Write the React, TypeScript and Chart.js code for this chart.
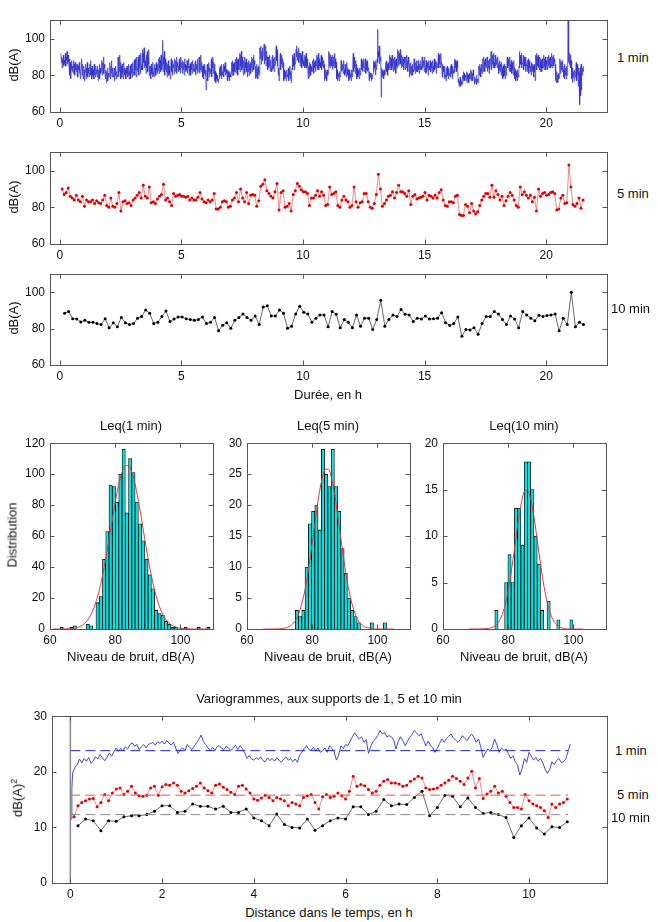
import React, { useEffect, useRef } from 'react';
import { Chart, registerables } from 'chart.js';
Chart.register(...registerables);

const FONT = "'Liberation Sans', Arial, Helvetica, sans-serif";

// ---------- Time series (dB(A)) ----------
const T1_START = 0.05; // h
const T1_STEP = 1 / 60; // h (1 min)
const T1 = [
  92,87,90,84,89,86,91,85,88,86, 87,92,85,90,88,93,86,89,91,87, 84,89,80,87,78,86,83,88,82,85,
  81,88,84,86,80,87,83,85,82,86, 80,86,79,85,83,87,81,84,78,82, 84,89,80,86,82,78,85,83,77,81,
  82,86,78,84,80,87,79,84,81,83, 79,86,82,88,80,84,78,85,82,80, 83,78,86,80,84,79,85,81,83,80,
  79,85,77,83,80,86,78,84,81,82, 82,88,80,87,83,90,81,86,84,79, 78,83,76,82,79,84,77,81,80,79,
  80,87,78,85,81,88,79,84,82,80, 79,84,77,83,80,85,78,82,81,79, 84,90,79,88,82,91,80,87,78,85,
  79,86,81,85,78,87,82,84,80,83, 78,84,81,85,79,83,80,86,78,82, 80,85,78,86,81,84,79,87,82,80,
  82,88,80,89,83,87,79,90,84,82, 83,90,80,91,84,88,81,92,85,83, 86,94,83,92,87,95,84,91,88,85,
  81,91,84,93,82,90,86,94,80,85, 80,85,78,86,81,84,79,87,82,80, 79,86,82,84,80,87,83,81,86,82,
  83,89,81,90,84,88,82,91,85,83, 85,99,82,90,86,93,80,89,83,87, 82,87,79,86,81,88,80,85,83,81,
  78,85,89,82,87,80,88,84,86,81, 83,89,82,88,84,90,81,87,85,84, 85,82,89,83,88,81,90,84,87,85,
  81,88,83,87,80,89,84,86,82,85, 83,88,81,86,84,89,80,85,82,86, 80,87,83,85,81,88,84,82,86,83,
  82,87,80,88,83,86,81,89,84,82, 84,90,81,88,83,91,82,87,85,84, 79,85,78,86,81,84,80,83,72,79,
  80,86,77,85,82,87,79,84,81,83, 82,89,79,88,84,90,81,87,83,86, 77,82,76,81,78,80,77,79,76,78,
  78,84,79,85,80,83,78,86,80,82, 81,86,79,85,82,87,80,84,83,81, 78,83,77,82,79,81,77,82,80,79,
  81,87,80,88,82,86,80,87,83,82, 82,89,81,90,83,88,80,89,84,83, 84,92,82,91,85,93,83,90,86,84,
  80,88,83,90,81,87,84,89,82,85, 79,87,82,88,80,86,83,87,81,84, 84,90,82,89,85,91,83,88,86,84,
  78,85,79,86,80,84,78,85,81,80, 87,95,89,96,86,93,90,95,88,91, 92,97,86,94,88,96,85,93,89,90,
  83,90,84,89,85,91,82,88,86,84, 82,90,83,91,84,89,82,90,85,86, 92,96,88,94,85,90,80,84,77,81,
  84,92,83,90,86,91,84,89,87,85, 77,83,78,82,79,81,77,83,80,79, 79,84,77,83,80,85,78,82,76,80,
  84,91,83,90,85,92,83,89,86,87, 94,90,96,88,93,89,95,87,92,90, 85,92,87,91,84,93,86,90,88,85,
  86,91,84,90,85,92,84,89,87,85, 78,85,79,87,81,86,80,85,82,84, 82,88,83,89,81,87,84,88,82,85,
  85,91,83,90,84,92,83,89,86,85, 87,84,91,83,90,85,89,84,88,86, 77,84,78,83,79,82,77,83,80,81,
  87,93,85,92,84,91,86,90,85,88, 83,91,85,90,84,92,86,89,84,87, 78,83,77,82,79,81,77,82,80,79,
  81,88,82,87,83,86,81,88,84,83, 80,86,81,85,79,87,82,84,80,83, 77,83,78,82,79,81,77,83,80,79,
  83,92,82,90,84,89,81,88,85,86, 78,84,79,83,80,82,78,84,81,80, 81,89,83,88,82,87,84,89,82,84,
  84,89,81,87,83,88,82,86,84,83, 77,82,78,81,79,80,77,81,78,80, 81,88,82,87,84,86,80,88,83,85,
  89,105,87,93,90,96,86,92,88,90, 68,84,79,83,80,82,78,83,81,80, 81,87,83,88,82,86,80,87,84,83,
  84,91,83,90,85,89,83,91,86,85, 82,89,84,90,83,88,81,89,85,84, 87,94,85,93,86,92,88,94,86,88,
  84,91,85,90,86,89,83,90,87,85, 83,90,84,91,85,88,82,90,86,85, 79,86,81,87,80,85,82,86,80,83,
  82,89,83,88,81,87,84,88,82,85, 82,88,83,87,81,86,84,88,83,85, 83,90,84,89,85,88,82,90,86,84,
  81,88,82,87,84,86,80,88,83,85, 83,88,82,87,84,86,81,88,84,85, 82,89,83,87,84,88,81,87,85,84,
  85,92,84,91,86,90,84,92,87,86, 81,86,79,85,82,84,78,85,80,79, 77,84,79,85,80,83,78,84,81,80,
  80,85,79,86,81,84,78,85,82,81, 83,89,82,88,84,87,82,88,85,84, 76,78,74,77,75,79,74,77,76,75,
  75,80,77,82,78,81,77,80,79,80, 77,82,76,81,78,80,76,81,79,78, 78,83,77,82,79,81,77,83,80,79,
  75,79,76,78,77,80,75,78,77,76, 79,85,80,86,81,84,79,86,82,81, 83,89,82,90,84,88,82,89,85,84,
  85,90,82,89,84,88,81,89,83,85, 85,93,83,92,86,91,84,92,85,87, 84,91,85,90,86,89,84,90,87,86,
  81,87,83,88,82,86,80,87,84,83, 78,85,79,86,80,84,78,85,81,80, 83,90,84,89,85,88,82,90,86,85,
  82,88,81,87,83,86,80,88,84,83, 78,83,77,82,79,81,77,83,80,79, 85,93,84,91,86,90,84,92,87,86,
  84,91,83,90,85,89,82,90,86,85, 82,88,83,89,81,87,84,88,82,85, 80,87,82,86,83,85,79,86,84,82,
  77,91,84,92,83,90,85,91,84,87, 83,90,82,89,84,88,82,89,85,84, 84,91,83,89,85,90,83,88,86,85,
  83,90,85,91,84,89,86,90,84,86, 85,92,84,90,86,91,85,89,87,86, 77,81,76,82,77,80,76,81,78,79,
  82,89,81,88,83,87,82,88,84,83, 79,85,78,86,80,84,78,85,81,80, 89,110,87,93,86,92,85,91,84,88,
  78,84,76,83,79,82,77,83,80,79, 79,87,77,86,80,85,74,84,78,82, 64,84,69,86,72,85,80,84,82,85,
];

const T5_START = 0.1;
const T5_STEP = 1 / 12;
const T5 = [
  90,87, 88,90.5, 86,85, 84,86.5, 84,83, 86,80.5, 84,83, 83,84, 82,83.5, 82.5,82,
  84,86.5, 81,80, 85,80.5, 80,82, 88,78, 83,83.5, 82,82.5, 81,84, 85,86.5, 88,85,
  92,86, 85,91, 82.5,83, 82,84.5, 86,87, 92.5,84, 85,83, 81,87.5, 86,86.5, 87,86,
  86,85.5, 86,84, 85,84, 84,85.5, 88,84.5, 83,82.5, 84,83, 84,87.5, 79,79, 80,83,
  83.5,83, 80,80.5, 84,85, 88,83, 90,85, 83,88, 82,86.5, 87,86.5, 80.5,83.5, 91.5,92.5,
  95,89, 87.5,86, 85,88.5, 93,78.5, 88,89, 80,80.5, 82,78, 87,89, 93,91.5, 89.5,88.5,
  88.5,87.5, 81,85, 85,86.5, 89,86, 88.5,86.5, 81,81.5, 91,87, 87.5,88.5, 81,80, 84,86,
  84,83, 80,81, 91,83, 80,82.5, 83,87.5, 87.5,83, 80,79.5, 82,87, 98,90, 80.5,82,
  84,86, 86.5,88.5, 85,88, 92,88.5, 88.5,87.5, 86,89, 81.5,86, 87,84.5, 85,85.5, 86,88,
  84,86.5, 86,85, 86.5,85, 88,89.5, 84,81, 80.5,83, 83,82.5, 86,86.5, 76,75.5, 75.5,81.5,
  80.5,77, 82,78, 76.5,77.5, 81,84, 86,87.5, 87.5,85.5, 92,85.5, 89,87, 84,86, 81,83.5,
  86,88, 86.5,84, 81,80, 91,87, 88.5,86.5, 85,86.5, 83,85.5, 78,90, 86,87.5, 88,86.5,
  87,88, 88.5,87.5, 78.5,79, 85,86.5, 82,82.5, 103,91, 81.5,80.5, 82,85, 79.5,84,
];

const T10_START = 0.2;
const T10_STEP = 1 / 6;
const T10 = [
  88.5, 89.4, 85.5, 85.3, 83.7, 84.6, 83.5, 83.5, 82.8, 82.3,
  85.5, 80.5, 83.2, 81, 86.2, 83.2, 82.3, 82.8, 85.8, 86.7,
  90.3, 88.5, 82.8, 83.5, 86.7, 89.7, 84, 85.3, 86.4, 86.4,
  85.5, 85, 84.6, 85, 86.4, 82.8, 83.5, 86.2, 78.8, 81.9,
  83.2, 80.2, 84.6, 86.2, 88.1, 86.2, 84.6, 87, 82.3, 92,
  92.6, 87, 87, 90.3, 88.5, 80.2, 81.4, 88.1, 92.4, 89,
  88.1, 83.5, 85.8, 87.6, 87.6, 81,
  89.4, 88, 80.5, 85, 83.5, 80.5, 87.6, 81.4, 85.8, 85.8,
  79.6, 85, 95.6, 81.4, 85, 87.6, 86.7, 90.6, 88, 87.6,
  84, 85.8, 85.3, 87, 85.3, 85.5, 85.8, 88.8, 83.2, 81.8,
  82.8, 86.4, 75.8, 79.6, 79.3, 80.5, 77, 82.8, 86.7, 86.7,
  89.4, 88.1, 85, 82.3, 87, 85.3, 80.5, 89.4, 87.6, 85.8,
  84.4, 87.4, 86.7, 87.3, 87.6, 88.1, 78.8, 85.8, 82.3, 100,
  81, 83.5, 82.3,
];

const TS_X_TICKS = [0, 5, 10, 15, 20];
const TS_Y_TICKS = [60, 80, 100];

// ---------- Histograms ----------
const H_X_TICKS = [60, 80, 100];
const H1_FIRST = 60.6; // bin centre, dB(A), 1 dB bins
const H1 = [0,0,0,1,0,0,1,2,0,0,0,3,2,0,17,21,45,63,93,92,82,100,116,75,110,101,82,68,57,45,35,26,12,10,9,5,3,1,1,0,0,1,0,0,0,1,0,0,1];
const H2_FIRST = 64.3;
const H2 = [0,0,0,0,0,0,0,0,0,0,0,3,2,3,10,17,19,20,16,29,25,23,29,23,19,13,9,5,3,2,1,0,0,0,1,0,0,0,1,0,0,0];
const H3_FIRST = 66.4;
const H3 = [0,0,0,0,0,0,0,0,0,0,2,0,0,5,8,5,13,13,9,18,18,15,10,7,2,0,3,0,0,1,0,0,0,1,0,0,0,0];
const G1_FIRST = 61;
const G1 = [0,0,0,0.05,0.1,0.2,0.4,0.8,1.5,2.6,4.4,7.2,11.2,16.8,24.1,33.4,44.3,56.6,69.4,81.8,92.6,100.7,105.2,105.7,101.9,94.5,84.1,72,59,46.7,35.4,25.8,18.1,12.2,7.8,4.9,2.9,1.7,0.9,0.5,0.25,0.1,0,0,0,0,0,0,0];
const G2_FIRST = 65;
const G2 = [0,0,0,0,0,0.04,0.1,0.2,0.4,0.8,1.5,2.7,4.5,6.9,10.1,13.8,17.7,21.4,24.2,25.8,25.8,24.2,21.4,17.7,13.8,10.1,6.9,4.5,2.7,1.5,0.8,0.4,0.2,0.1,0,0,0,0,0,0,0];
const G3_FIRST = 68;
const G3 = [0,0,0,0,0.02,0.04,0.08,0.15,0.35,0.73,1.41,2.53,4.17,6.3,8.8,11.4,13.5,14.8,14.9,13.85,11.85,9.35,6.8,4.56,2.82,1.6,0.84,0.41,0.18,0.07,0,0,0,0,0,0];

// ---------- Variogrammes ----------
const VG_X_TICKS = [0, 2, 4, 6, 8, 10];
const VG_Y_TICKS = [0, 10, 20, 30];
const VG1_EARLY_LAGS = [1 / 60, 2 / 60];
const VG1_EARLY = [11.5, 17.0];
const VG1_STEP = 0.05;
const VG1 = [
  19.8,20.8,21.3,22.3,21.6,22.4,21.9,22.6,21.5,22.0,22.7,22.3,23.1,22.5,22.0,22.6,23.4,22.8,23.6,24.3,
  23.7,24.2,23.8,24.5,24.1,24.9,25.2,24.6,24.9,24.0,24.5,24.9,24.3,24.9,25.1,25.3,24.8,25.4,25.1,25.5,
  25.0,25.6,25.2,24.8,25.3,24.2,23.3,24.0,24.3,23.8,24.9,24.4,24.0,24.6,25.2,25.8,26.6,25.5,24.9,24.3,
  23.8,24.4,23.9,24.5,24.7,24.2,24.0,24.6,24.3,23.8,24.3,24.8,24.0,24.7,24.2,23.4,22.4,22.9,22.3,22.1,
  22.6,22.2,22.7,22.0,21.8,22.5,22.0,22.4,21.9,22.5,22.1,21.7,22.3,22.7,22.1,22.4,21.8,22.3,21.7,23.0,
  23.5,24.2,24.7,24.0,23.9,24.4,23.7,24.3,23.5,23.8,24.3,23.5,24.7,24.2,23.6,22.1,23.0,24.7,24.2,24.9,
  24.7,25.5,26.3,27.0,26.4,25.9,26.3,25.3,25.8,23.3,24.6,25.4,25.9,26.5,27.4,26.8,27.1,26.3,26.5,26.3,
  25.7,24.1,25.5,26.3,25.6,24.7,25.5,26.2,26.7,27.4,27.0,26.5,26.8,25.7,24.7,25.5,24.8,24.3,23.5,24.2,
  25.1,25.9,25.3,26.0,26.4,26.8,26.1,25.7,25.3,25.8,26.5,26.0,25.6,26.3,26.8,26.2,25.3,25.9,24.4,22.6,
  23.4,24.1,23.7,24.5,25.9,24.8,23.5,24.3,23.8,24.1,23.3,22.4,22.9,21.8,21.2,19.4,20.6,22.4,21.7,23.5,
  22.8,22.1,22.6,21.9,22.4,21.6,20.5,19.7,20.4,21.8,21.3,22.0,22.4,21.7,21.8,22.3,23.6,25.0,
];
const VG5_STEP = 1 / 12;
const VG5 = [
  11.9,13.9,14.5,14.8,15.1,15.2,13.7,14.5,15.9,14.8,16.2,16.9,
  17.1,15.9,16.5,17.4,16.2,15.7,15.6,15.8,17.1,17.4,15.8,17.3,
  17.7,17.6,18.0,17.6,16.5,16.2,16.6,17.0,17.4,18.0,17.1,16.6,
  16.2,17.6,17.8,17.2,16.8,16.3,15.9,17.4,17.6,16.9,16.2,15.1,
  14.9,15.3,15.8,15.4,14.8,15.4,15.1,14.8,13.9,14.5,14.2,13.9,
  15.4,15.7,15.9,14.5,13.3,15.5,15.9,15.4,15.6,16.2,15.7,15.1,
  16.5,19.2,17.4,17.7,17.5,16.8,16.2,16.5,17.6,18.3,18.6,18.0,
  18.0,17.8,17.4,17.6,18.3,18.7,19.2,18.9,17.1,16.8,16.9,17.1,
  17.6,18.0,18.5,19.2,18.8,18.3,17.7,18.9,20.1,17.1,18.8,15.2,
  16.0,16.5,17.4,16.2,16.5,15.6,14.5,13.6,13.6,13.3,15.9,14.8,
  14.2,13.9,13.6,13.0,11.8,14.2,13.6,14.2,14.5,15.1,
];
const VG10_STEP = 1 / 6;
const VG10 = [
  10.3, 11.5, 11.2, 9.4, 11.2, 11.1, 11.9, 12.1, 12.1, 12.3,
  12.9, 13.9, 13.9, 12.7, 12.9, 14.2, 13.8, 13.8, 13.3, 13.8,
  12.7, 12.7, 13.3, 11.7, 11.2, 10.3, 12.4, 10.5, 10.0, 9.9,
  11.5, 9.5, 10.3,
  11.2, 11.7, 11.5, 13.7, 13.7, 12.3, 12.9, 15.0, 13.9, 14.2,
  14.1, 15.4, 16.5, 12.1, 13.6, 15.8, 15.6, 13.7, 15.3, 13.6,
  12.5, 12.7, 12.3, 11.8, 8.2, 10.3, 11.7, 9.9, 8.8, 10.1,
  10.0, 11.0,
];
const SILLS = [23.8, 15.8, 12.3]; // 1, 5, 10 min
const SILL_END = 10.85;

// ---------- helpers ----------
const series = (vals: number[], start: number, step: number) => vals.map((v, i) => ({ x: start + i * step, y: v }));

const matlabBox = {
  id: 'matlabBox',
  afterDatasetsDraw(chart: any) {
    const { ctx, chartArea: a, scales } = chart;
    const xs = scales.x, ys = scales.y;
    const L = 4.5;
    ctx.save();
    ctx.strokeStyle = '#555';
    ctx.lineWidth = 1;
    ctx.beginPath();
    xs.ticks.forEach((t: any) => {
      const p = Math.round(xs.getPixelForValue(t.value)) + 0.5;
      ctx.moveTo(p, a.bottom); ctx.lineTo(p, a.bottom - L);
      ctx.moveTo(p, a.top); ctx.lineTo(p, a.top + L);
    });
    ys.ticks.forEach((t: any) => {
      const p = Math.round(ys.getPixelForValue(t.value)) + 0.5;
      ctx.moveTo(a.left, p); ctx.lineTo(a.left + L, p);
      ctx.moveTo(a.right, p); ctx.lineTo(a.right - L, p);
    });
    ctx.stroke();
    ctx.strokeRect(Math.round(a.left) + 0.5, Math.round(a.top) + 0.5, Math.round(a.right - a.left), Math.round(a.bottom - a.top));
    ctx.restore();
  },
};

type Margin = { l: number; t: number; r: number; b: number };
type Range = { min: number; max: number; ticks: number[] };

function axis(r: Range, isX: boolean, m: Margin) {
  return {
    type: 'linear',
    min: r.min,
    max: r.max,
    offset: false,
    grid: { display: false, drawTicks: false },
    border: { display: false },
    ticks: { padding: isX ? 4 : 5, color: '#111', font: { family: FONT, size: 12 }, maxRotation: 0, autoSkip: false },
    afterBuildTicks: (s: any) => { s.ticks = r.ticks.map((v) => ({ value: v })); },
    afterFit: (s: any) => { if (isX) s.height = m.b; else s.width = m.l; },
  };
}

function options(xr: Range, yr: Range, m: Margin) {
  return {
    responsive: false,
    animation: false,
    devicePixelRatio: 1,
    layout: { padding: { left: 0, top: m.t, right: m.r, bottom: 0 } },
    plugins: { legend: { display: false }, tooltip: { enabled: false }, title: { display: false } },
    scales: { x: axis(xr, true, m), y: axis(yr, false, m) },
  };
}

function ChartBox({ box, m, make }: { box: number[]; m: Margin; make: () => any }) {
  const ref = useRef<HTMLCanvasElement | null>(null);
  useEffect(() => {
    const chart = new Chart(ref.current as HTMLCanvasElement, make());
    return () => chart.destroy();
  }, []);
  const [x0, y0, x1, y1] = box;
  const w = x1 - x0 + m.l + m.r;
  const h = y1 - y0 + m.t + m.b;
  return (
    <canvas ref={ref} width={w} height={h}
      style={{ position: 'absolute', left: x0 - m.l, top: y0 - m.t, width: w, height: h }} />
  );
}

function Txt({ x, y, children, rot, size = 13, align = 'center' }: any) {
  const tx = align === 'left' ? '0' : '-50%';
  return (
    <div style={{
      position: 'absolute', left: x, top: y, whiteSpace: 'nowrap', fontFamily: FONT, fontSize: size, color: '#111',
      transform: `translate(${tx},-50%)${rot ? ' rotate(-90deg)' : ''}`, lineHeight: 1,
    }}>{children}</div>
  );
}

const MTS: Margin = { l: 40, t: 10, r: 6, b: 20 };
const MH: Margin = { l: 32, t: 10, r: 6, b: 20 };
const TS_X: Range = { min: -0.4, max: 22.5, ticks: TS_X_TICKS };
const TS_Y: Range = { min: 60, max: 110, ticks: TS_Y_TICKS };

function tsConfig(kind: number) {
  const ds: any[] = [];
  if (kind === 1) {
    ds.push({ data: series(T1, T1_START, T1_STEP), borderColor: '#3232c8', borderWidth: 0.7, pointRadius: 0 });
  } else if (kind === 5) {
    ds.push({ data: series(T5, T5_START, T5_STEP), borderColor: '#f06a6a', borderWidth: 0.8, pointRadius: 1.5,
      pointBackgroundColor: '#e00000', pointBorderWidth: 0 });
  } else {
    ds.push({ data: series(T10, T10_START, T10_STEP), borderColor: '#444', borderWidth: 0.8, pointRadius: 1.5,
      pointBackgroundColor: '#000', pointBorderWidth: 0 });
  }
  return { type: 'line', data: { datasets: ds }, options: options(TS_X, TS_Y, MTS), plugins: [matlabBox] };
}

function histConfig(counts: number[], first: number, curve: number[], cfirst: number, ymax: number, yticks: number[]) {
  return {
    type: 'bar',
    data: {
      datasets: [
        { type: 'line', data: series(curve, cfirst, 1), borderColor: '#e03a3a', borderWidth: 1, pointRadius: 0,
          cubicInterpolationMode: 'monotone', order: 0 },
        { type: 'bar', data: series(counts, first, 1), backgroundColor: '#12dcdc', borderColor: '#000', borderWidth: 0.8,
          barPercentage: 1, categoryPercentage: 1, order: 1 },
      ],
    },
    options: options({ min: 60, max: 110, ticks: H_X_TICKS }, { min: 0, max: ymax, ticks: yticks }, MH),
    plugins: [matlabBox],
  };
}

function vgConfig() {
  const blue = [...VG1_EARLY.map((v, i) => ({ x: VG1_EARLY_LAGS[i], y: v })), ...series(VG1, VG1_STEP, VG1_STEP)];
  const dash = (y: number, c: string) => ({ data: [{ x: 0, y }, { x: SILL_END, y }], borderColor: c, borderWidth: 1,
    borderDash: [10, 5], pointRadius: 0 });
  return {
    type: 'line',
    data: {
      datasets: [
        { data: [{ x: 0, y: 0 }, { x: 0, y: 30 }], borderColor: '#8a8a8a', borderWidth: 1.5, pointRadius: 0 },
        dash(SILLS[0], '#2020c0'),
        dash(SILLS[1], '#f05050'),
        dash(SILLS[2], '#8a8a8a'),
        { data: blue, borderColor: '#3232c8', borderWidth: 0.9, pointRadius: 0 },
        { data: series(VG5, VG5_STEP, VG5_STEP), borderColor: '#f06a6a', borderWidth: 0.8, pointRadius: 1.5,
          pointBackgroundColor: '#e00000', pointBorderWidth: 0 },
        { data: series(VG10, VG10_STEP, VG10_STEP), borderColor: '#444', borderWidth: 0.8, pointRadius: 1.5,
          pointBackgroundColor: '#000', pointBorderWidth: 0 },
      ],
    },
    options: options({ min: -0.4, max: 11.7, ticks: VG_X_TICKS }, { min: 0, max: 30, ticks: VG_Y_TICKS }, MTS),
    plugins: [matlabBox],
  };
}

export default function App() {
  return (
    <div style={{ position: 'absolute', left: 0, top: 0, width: 658, height: 922, background: '#fff', overflow: 'hidden' }}>
      <ChartBox box={[50, 18, 607, 112]} m={MTS} make={() => tsConfig(1)} />
      <ChartBox box={[50, 150, 607, 244]} m={MTS} make={() => tsConfig(5)} />
      <ChartBox box={[50, 272, 607, 365]} m={MTS} make={() => tsConfig(10)} />
      <Txt x={13} y={65} rot>dB(A)</Txt>
      <Txt x={13} y={197} rot>dB(A)</Txt>
      <Txt x={13} y={318} rot>dB(A)</Txt>
      <Txt x={617} y={57} align="left">1 min</Txt>
      <Txt x={617} y={193} align="left">5 min</Txt>
      <Txt x={611} y={308} align="left">10 min</Txt>
      <Txt x={328} y={394}>Durée, en h</Txt>

      <ChartBox box={[50, 441, 213, 629]} m={MH} make={() => histConfig(H1, H1_FIRST, G1, G1_FIRST, 120, [0, 20, 40, 60, 80, 100, 120])} />
      <ChartBox box={[247, 441, 410, 629]} m={MH} make={() => histConfig(H2, H2_FIRST, G2, G2_FIRST, 30, [0, 5, 10, 15, 20, 25, 30])} />
      <ChartBox box={[443, 441, 606, 629]} m={MH} make={() => histConfig(H3, H3_FIRST, G3, G3_FIRST, 20, [0, 5, 10, 15, 20])} />
      <Txt x={131} y={425}>Leq(1 min)</Txt>
      <Txt x={328} y={425}>Leq(5 min)</Txt>
      <Txt x={524} y={425}>Leq(10 min)</Txt>
      <Txt x={12} y={535} rot>Distribution</Txt>
      <Txt x={131} y={656}>Niveau de bruit, dB(A)</Txt>
      <Txt x={328} y={656}>Niveau de bruit, dB(A)</Txt>
      <Txt x={524} y={656}>Niveau de bruit, dB(A)</Txt>

      <ChartBox box={[52, 714, 607, 883]} m={MTS} make={vgConfig} />
      <Txt x={329} y={698}>Variogrammes, aux supports de 1, 5 et 10 min</Txt>
      <Txt x={17} y={798} rot>dB(A)<sup style={{ fontSize: 9 }}>2</sup></Txt>
      <Txt x={329} y={912}>Distance dans le temps, en h</Txt>
      <Txt x={615} y={750} align="left">1 min</Txt>
      <Txt x={617} y={794} align="left">5 min</Txt>
      <Txt x={611} y={817} align="left">10 min</Txt>
    </div>
  );
}
